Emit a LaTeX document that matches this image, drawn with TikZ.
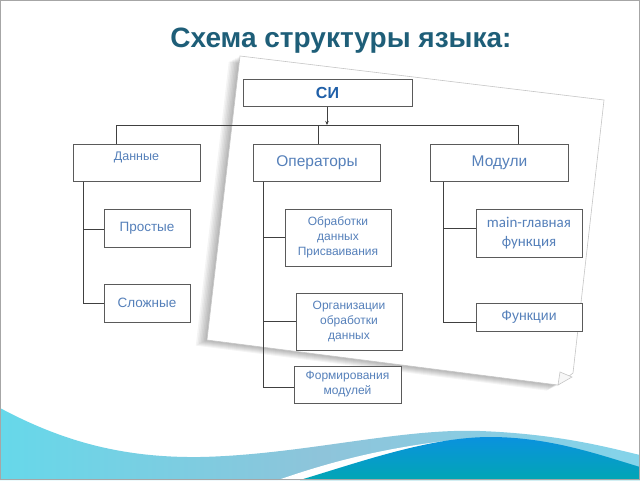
\documentclass[tikz,border=0pt]{standalone}
\usepackage{fontspec}
\setmainfont{Liberation Sans}
\newfontfamily\calib{Carlito}
\usetikzlibrary{arrows.meta,calc}
\definecolor{titlec}{HTML}{1E5E78}
\definecolor{txtc}{HTML}{5580BA}
\definecolor{sic}{HTML}{1F5FA8}
\definecolor{linec}{HTML}{404040}
\definecolor{boxc}{HTML}{5A5A5A}
\definecolor{wlA}{HTML}{66D8EA}
\definecolor{wlB}{HTML}{8EC4DA}
\definecolor{wlC}{HTML}{84D4EA}
\definecolor{wdA}{HTML}{0A92DE}
\definecolor{wdB}{HTML}{02A6B4}
\tikzset{
  boxn/.style={draw=boxc, line width=1pt, fill=white, inner sep=0pt, align=center,
    text=txtc, font=\fontsize{12}{15}\selectfont},
  conn/.style={draw=linec, line width=0.9pt},
}
\begin{document}
\begin{tikzpicture}[x=1pt,y=-1pt]
\useasboundingbox (0,0) rectangle (640,480);
\fill[white] (0,0) rectangle (640,480);
% waves
\shade[left color=wlA, right color=wlC, middle color=wlB]
  (0,408) .. controls (60,440) and (120,458) .. (200,457)
  .. controls (300,455) and (400,428) .. (480,431)
  .. controls (560,434) and (610,448) .. (640,455)
  -- (640,480) -- (0,480) -- cycle;
\fill[white] (278,480) .. controls (330,462) and (380,449) .. (445,441)
  .. controls (390,456) and (345,470) .. (305,480) -- cycle;
\shade[top color=wdA, bottom color=wdB]
  (300,480) .. controls (360,462) and (430,437) .. (490,437)
  .. controls (550,437) and (600,455) .. (640,467)
  -- (640,480) -- cycle;
% paper shadow
\foreach \s in {1,2,3,4,5,6,7}{
  \fill[black,opacity=0.045] ($(240,56)+(-\s*1.6,\s*0.8)$) -- ($(604,100)+(-\s*1.6,\s*0.8)$)
    -- ($(573,373)+(-\s*1.6,\s*0.8)$) -- ($(558,385)+(-\s*1.6,\s*0.8)$)
    -- ($(207,340)+(-\s*1.6,\s*0.8)$) -- cycle;
}
\fill[white, draw=gray!45, line width=0.6pt] (240,56) -- (604,100) -- (573,373) -- (558,385) -- (207,340) -- cycle;
\draw[gray!45, line width=0.6pt, fill=gray!6] (560,372) -- (572,377) -- (558,385) -- cycle;
% title
\node[font=\bfseries\fontsize{28}{32}\selectfont, text=titlec, anchor=base] (title) at (341,47) {Схема структуры языка:};
% boxes
\node[boxn, minimum width=169pt, minimum height=27pt, font=\bfseries\fontsize{16}{18}\selectfont, text=sic] (si) at (327.5,92.5) {СИ};
\node[boxn, minimum width=127pt, minimum height=37pt, font=\fontsize{12.5}{15}\selectfont] (dan) at (136.5,162.5) {\raisebox{12pt}{Данные}};
\node[boxn, minimum width=127pt, minimum height=37pt, font=\fontsize{15.5}{18}\selectfont] (oper) at (317,162.5) {Операторы};
\node[boxn, minimum width=138pt, minimum height=37pt, font=\fontsize{15.5}{18}\selectfont] (mod) at (499.5,162.5) {Модули};
\node[boxn, minimum width=86pt, minimum height=38pt, font=\fontsize{13.5}{16}\selectfont] (pros) at (147,228) {Простые};
\node[boxn, minimum width=86pt, minimum height=38pt, font=\fontsize{13.5}{16}\selectfont] (slo) at (147,303) {Сложные};
\node[boxn, minimum width=106pt, minimum height=57pt] (obr) at (338,237.5) {Обработки\\данных\\Присваивания};
\node[boxn, minimum width=106pt, minimum height=57pt] (org) at (349,321.5) {Организации\\обработки\\данных};
\node[boxn, minimum width=107pt, minimum height=37pt] (form) at (347.5,384.5) {Формирования\\модулей};
\node[boxn, minimum width=106pt, minimum height=48pt, font=\calib\fontsize{15}{19}\selectfont] (mainf) at (529,233) {main-главная\\функция};
\node[boxn, minimum width=106pt, minimum height=28pt, font=\fontsize{14}{16}\selectfont] (fun) at (529,317) {Функции};
% bus
\coordinate (busL) at (116,125);
\coordinate (busR) at (518,125);
\coordinate (busA) at (327,125);
\coordinate (busM) at (318,125);
\draw[conn, -{Stealth[length=4pt,width=3.5pt]}] (si.south -| busA) -- (busA);
\draw[conn] (busL) -- (busR);
\draw[conn] (busL) -- (busL |- dan.north);
\draw[conn] (busM) -- (busM |- oper.north);
\draw[conn] (busR) -- (busR |- mod.north);
% trunks
\coordinate (dt) at ([xshift=11pt]dan.south west);
\coordinate (ot) at ([xshift=10pt]oper.south west);
\coordinate (mt) at ([xshift=13.5pt]mod.south west);
\draw[conn] (dt) |- ([yshift=-1pt]pros.west);
\draw[conn] (dt) |- (slo.west);
\draw[conn] (ot) |- (obr.west);
\draw[conn] (ot) |- (org.west);
\draw[conn] (ot) |- ([yshift=-2.5pt]form.west);
\draw[conn] (mt) |- ([yshift=5pt]mainf.west);
\draw[conn] (mt) |- ([yshift=-5pt]fun.west);
% slide frame
\draw[gray!70, line width=0.8pt] (0.4,0.4) rectangle (639.6,479.6);
\end{tikzpicture}
\end{document}
